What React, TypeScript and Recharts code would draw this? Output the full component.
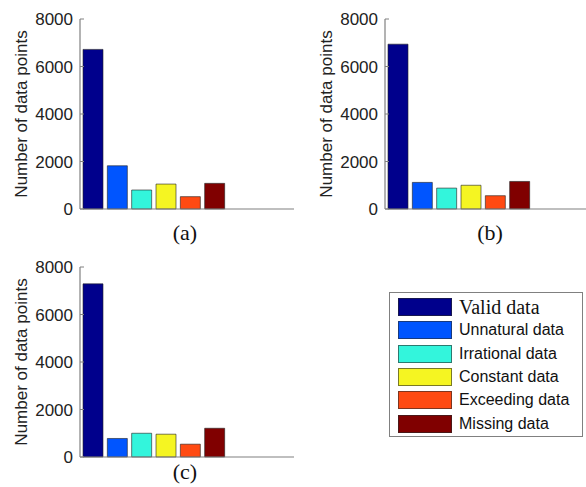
import { Bar, BarChart, Cell, XAxis, YAxis } from "recharts";

const categories = ["Valid data", "Unnatural data", "Irrational data", "Constant data", "Exceeding data", "Missing data"];
const colors = ["#00008c", "#0055ff", "#33f5dc", "#f5f522", "#ff4a12", "#800000"];
const valuesA = [6720, 1820, 800, 1050, 520, 1080];
const valuesB = [6940, 1120, 880, 1000, 560, 1160];
const valuesC = [7290, 780, 1000, 960, 540, 1210];
const yTicks = [0, 2000, 4000, 6000, 8000];

const frame = "#808080";
const sans = "'Liberation Sans', Arial, sans-serif";
const serif = "'Liberation Serif', 'Times New Roman', serif";

type PanelProps = {
    values: number[];
    tag: string;
    tagOffset: number;
    left: number;
    top: number;
    rightEdge?: boolean;
};

const Panel = ({ values, tag, tagOffset, left, top, rightEdge = true }: PanelProps) => {
    const data = categories.map((name, i) => ({ name, value: values[i] }));
    return (
        <div style={{ position: "absolute", left, top }}>
            <BarChart width={300} height={250} data={data} margin={{ top: 19, right: 6, left: 0, bottom: 0 }}>
                <XAxis
                    dataKey="name"
                    height={41}
                    padding={{ left: 1, right: 67 }}
                    tick={false}
                    tickLine={false}
                    axisLine={{ stroke: frame, strokeWidth: 1.2 }}
                    label={{
                        content: ({ viewBox }: any) => (
                            <text
                                x={viewBox.x + viewBox.width / 2 - 2}
                                y={viewBox.y + tagOffset}
                                textAnchor="middle"
                                dominantBaseline="central"
                                fontFamily={serif}
                                fontSize={22}
                                fill="#111"
                            >
                                {tag}
                            </text>
                        ),
                    }}
                />
                <XAxis xAxisId="top" dataKey="name" orientation="top" height={0} tick={false} tickLine={false}
                    axisLine={{ stroke: frame, strokeWidth: 1.2 }} />
                <YAxis
                    width={80}
                    domain={[0, 8000]}
                    ticks={yTicks}
                    tickSize={-4}
                    tickMargin={11}
                    tickLine={{ stroke: frame }}
                    axisLine={{ stroke: frame, strokeWidth: 1.2 }}
                    tick={{ fontFamily: sans, fontSize: 17, fill: "#222" }}
                    label={{
                        content: ({ viewBox }: any) => {
                            const cx = 21;
                            const cy = viewBox.y + viewBox.height / 2;
                            return (
                                <text
                                    x={cx}
                                    y={cy}
                                    transform={`rotate(-90 ${cx} ${cy})`}
                                    textAnchor="middle"
                                    dominantBaseline="central"
                                    fontFamily={sans}
                                    fontSize={17}
                                    fill="#222"
                                >
                                    Number of data points
                                </text>
                            );
                        },
                    }}
                />
                <YAxis yAxisId="right" orientation="right" width={0} domain={[0, 8000]} ticks={yTicks}
                    tickSize={-4} tick={false} tickLine={rightEdge ? { stroke: frame } : false}
                    axisLine={rightEdge ? { stroke: frame, strokeWidth: 1.2 } : false} />
                <Bar dataKey="value" barSize={20} stroke="#222" strokeOpacity={0.6} strokeWidth={1} isAnimationActive={false}>
                    {data.map((d, i) => (
                        <Cell key={d.name} fill={colors[i]} />
                    ))}
                </Bar>
            </BarChart>
        </div>
    );
};

const LegendBox = () => (
    <div
        style={{
            position: "absolute",
            left: 389,
            top: 292,
            width: 192,
            height: 143,
            border: `1.5px solid ${frame}`,
            background: "#fff",
        }}
    >
        {categories.map((name, i) => (
            <div
                key={name}
                style={{ position: "absolute", left: 8, top: 5 + i * 23.3, height: 18, display: "flex", alignItems: "center" }}
            >
                <div style={{ width: 52, height: 16, background: colors[i], border: "1px solid rgba(40,40,40,0.6)" }} />
                <span
                    style={{
                        marginLeft: 7,
                        fontFamily: i === 0 ? serif : sans,
                        fontSize: i === 0 ? 20 : 16,
                        color: "#111",
                        whiteSpace: "nowrap",
                    }}
                >
                    {name}
                </span>
            </div>
        ))}
    </div>
);

export default function App() {
    return (
        <div style={{ position: "absolute", left: 0, top: 0, width: 586, height: 487, overflow: "hidden", background: "#fff" }}>
            <Panel values={valuesA} tag="(a)" tagOffset={23} left={0} top={0} />
            <Panel values={valuesB} tag="(b)" tagOffset={23} left={305} top={0} rightEdge={false} />
            <Panel values={valuesC} tag="(c)" tagOffset={14} left={0} top={248} />
            <LegendBox />
        </div>
    );
}
